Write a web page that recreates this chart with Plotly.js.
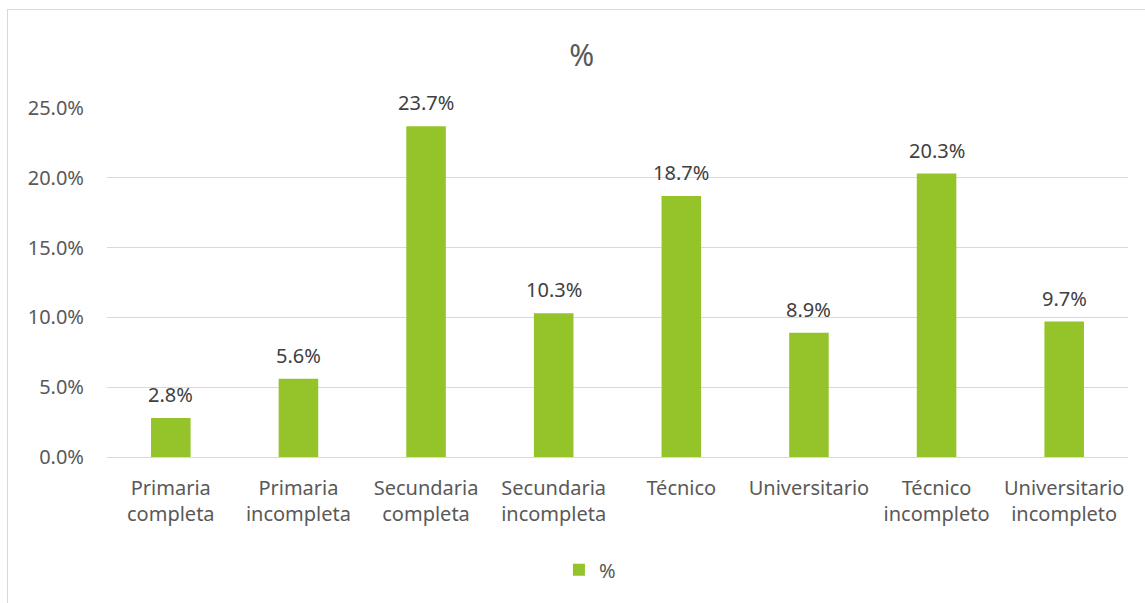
<!DOCTYPE html>
<html>
<head>
<meta charset="utf-8">
<script src="https://cdn.plot.ly/plotly-3.0.1.min.js"></script>
<style>
body{margin:0;padding:0;background:#fff;}
#wrap{position:relative;width:1145px;height:603px;overflow:hidden;}
#frame{position:absolute;left:7px;top:9px;width:1160px;height:620px;border:1px solid #d9d9d9;box-sizing:border-box;pointer-events:none;}
#chart{position:absolute;left:0;top:0;width:1145px;height:603px;}
</style>
</head>
<body>
<div id="wrap">
<div id="chart"></div>
<div id="frame"></div>
</div>
<script>
const categories = ["Primaria<br>completa","Primaria<br>incompleta","Secundaria<br>completa","Secundaria<br>incompleta","Técnico","Universitario","Técnico<br>incompleto","Universitario<br>incompleto"];
const values = [0.028, 0.056, 0.237, 0.103, 0.187, 0.089, 0.203, 0.097];
const tickVals = [0, 0.05, 0.10, 0.15, 0.20, 0.25];
const tickText = ["0.0%","5.0%","10.0%","15.0%","20.0%","25.0%"];
const seriesName = "%";

const font = "Noto Sans, Open Sans, sans-serif";
const labelAnnotations = categories.map((c, i) => ({
  x: c, y: values[i], xref: "x", yref: "y",
  text: (values[i]*100).toFixed(1) + "%",
  showarrow: false, yanchor: "bottom", yshift: 8,
  font: {family: font, size: 20, color: "#404040"}
}));

Plotly.newPlot("chart", [{
  type: "bar",
  x: categories,
  y: values,
  name: seriesName,
  marker: {color: "#95C42A"},
  showlegend: true
}], {
  width: 1145, height: 603,
  margin: {l: 107, r: 17, t: 108, b: 146},
  paper_bgcolor: "#fff", plot_bgcolor: "#fff",
  title: {text: "%", font: {family: font, size: 30, color: "#595959"}, x: 0.508, xanchor: "center", y: 0.908, yanchor: "middle"},
  bargap: 0.69,
  annotations: labelAnnotations,
  xaxis: {tickfont: {family: font, size: 20, color: "#595959"}, showline: true, linecolor: "#d9d9d9", linewidth: 1, ticks: "", ticklabelstandoff: 13, automargin: false, fixedrange: true},
  yaxis: {range: [0, 0.25], tickvals: tickVals, ticktext: tickText, tickfont: {family: font, size: 20, color: "#595959"}, gridcolor: "#d9d9d9", zeroline: false, showline: false, ticks: "", ticklabelstandoff: 22, fixedrange: true, automargin: false},
  legend: {orientation: "h", x: 0.473, xanchor: "center", yref: "container", y: 0.055, yanchor: "middle", font: {family: font, size: 20, color: "#595959"}, itemwidth: 30},
  showlegend: true
}, {displayModeBar: false, staticPlot: true});
</script>
</body>
</html>
